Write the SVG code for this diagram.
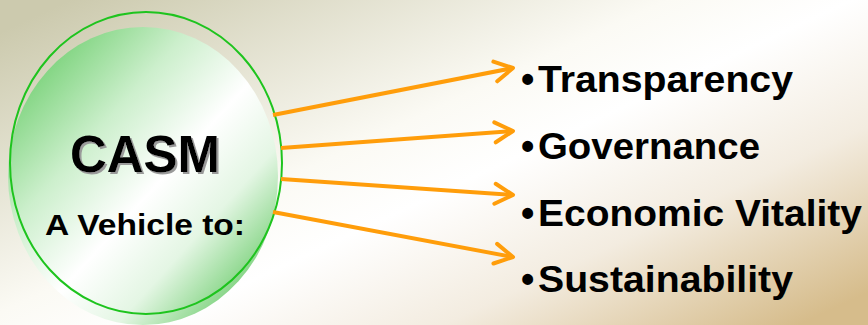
<svg xmlns="http://www.w3.org/2000/svg" width="868" height="325" viewBox="0 0 868 325">
<defs>
<linearGradient id="bg" x1="0" y1="0.1" x2="1" y2="0.9">
<stop offset="0" stop-color="#cccaae"/>
<stop offset="0.42" stop-color="#fbfaf4"/>
<stop offset="0.55" stop-color="#ffffff"/>
<stop offset="0.75" stop-color="#f3ece0"/>
<stop offset="1" stop-color="#d6bc8b"/>
</linearGradient>
<linearGradient id="ball" x1="0.1" y1="0.1" x2="0.9" y2="0.9">
<stop offset="0" stop-color="#74d074"/>
<stop offset="0.3" stop-color="#ccefcc"/>
<stop offset="0.55" stop-color="#ffffff"/>
<stop offset="0.75" stop-color="#e4f6e4"/>
<stop offset="1" stop-color="#6fcd6f"/>
</linearGradient>
<filter id="shadow" x="-10%" y="-10%" width="130%" height="140%">
<feOffset in="SourceAlpha" dx="2" dy="2" result="off"/>
<feFlood flood-color="#9a9a9a"/>
<feComposite in2="off" operator="in" result="sh"/>
<feMerge><feMergeNode in="sh"/><feMergeNode in="SourceGraphic"/></feMerge>
</filter>
<marker id="arr" markerUnits="userSpaceOnUse" viewBox="-22 -14 26 28" markerWidth="26" markerHeight="28" refX="0" refY="0" orient="auto">
<path d="M-18,-10 L0,0 L-18,10" fill="none" stroke="#ff9d0a" stroke-width="4" stroke-linecap="round" stroke-linejoin="round"/>
</marker>
<style>
.conn{stroke:#ff9d0a;stroke-width:4;fill:none;marker-end:url(#arr);}
.item{font-family:"Liberation Sans",Arial,sans-serif;font-weight:bold;font-size:37px;fill:#000;}
.bul{font-family:"Liberation Sans",Arial,sans-serif;font-weight:bold;font-size:38px;fill:#000;}
.title{font-family:"Liberation Sans",Arial,sans-serif;font-weight:bold;font-size:52px;fill:#000;}
.sub{font-family:"Liberation Sans",Arial,sans-serif;font-weight:bold;font-size:29px;fill:#000;}
</style>
</defs>
<rect x="0" y="0" width="868" height="325" fill="url(#bg)"/>
<g id="casm">
<ellipse cx="143" cy="176" rx="135" ry="149" fill="url(#ball)"/>
<ellipse cx="146" cy="163" rx="136" ry="151" fill="none" stroke="#1ec41e" stroke-width="2"/>
<text class="title" x="70" y="172" textLength="150" lengthAdjust="spacingAndGlyphs" filter="url(#shadow)">CASM</text>
<text class="sub" x="45" y="235" textLength="200" lengthAdjust="spacingAndGlyphs">A Vehicle to:</text>
</g>
<g id="connectors">
<line class="conn" x1="273" y1="115" x2="513" y2="68"/>
<line class="conn" x1="281" y1="148" x2="513" y2="131"/>
<line class="conn" x1="281" y1="179" x2="513" y2="195"/>
<line class="conn" x1="273" y1="212" x2="513" y2="257"/>
</g>
<g id="transparency"><text class="item" x="521" y="92"><tspan class="bul">•</tspan><tspan x="538" textLength="255" lengthAdjust="spacingAndGlyphs">Transparency</tspan></text></g>
<g id="governance"><text class="item" x="521" y="159"><tspan class="bul">•</tspan><tspan x="538" textLength="222" lengthAdjust="spacingAndGlyphs">Governance</tspan></text></g>
<g id="economic"><text class="item" x="521" y="226"><tspan class="bul">•</tspan><tspan x="538" textLength="324" lengthAdjust="spacingAndGlyphs">Economic Vitality</tspan></text></g>
<g id="sustainability"><text class="item" x="521" y="292"><tspan class="bul">•</tspan><tspan x="538" textLength="255" lengthAdjust="spacingAndGlyphs">Sustainability</tspan></text></g>
</svg>
